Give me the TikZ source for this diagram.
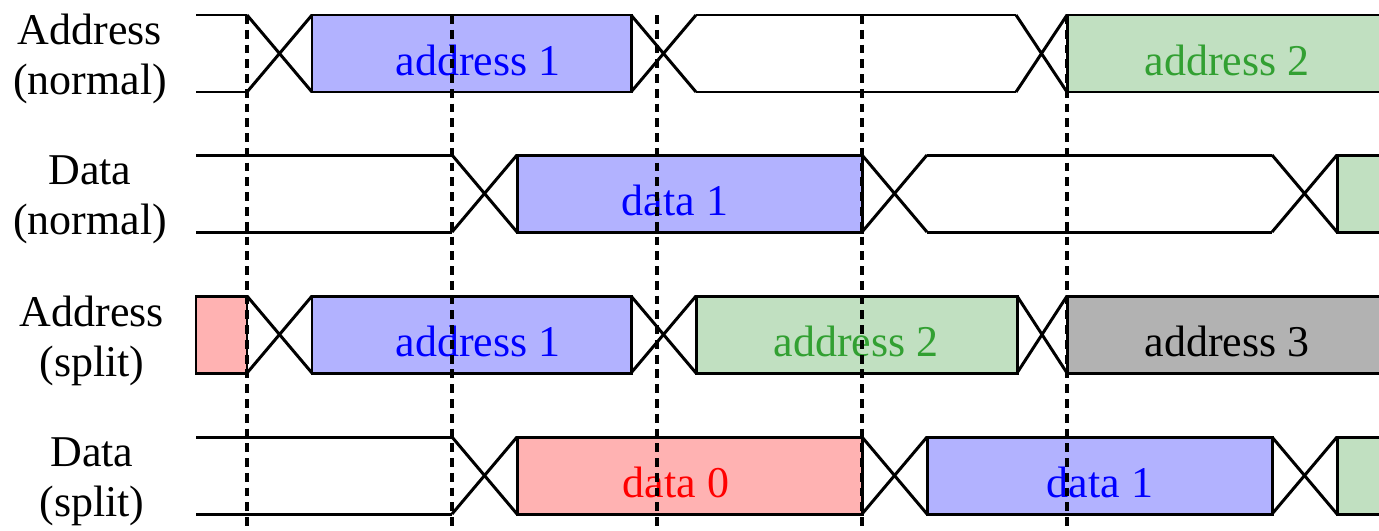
\documentclass[tikz,border=0pt]{standalone}
\usepackage{fontspec}
\setmainfont{Liberation Serif}
\usetikzlibrary{positioning}

\definecolor{busgreen}{RGB}{193,224,193}
\definecolor{txtgreen}{RGB}{50,160,50}

\begin{document}
\begin{tikzpicture}[x=0.01cm, y=-0.01cm, line width=0.85pt,
  lbl/.style={align=center, font=\fontsize{12.5}{14.2}\selectfont},
  val/.style={anchor=base, font=\fontsize{12.5}{14.2}\selectfont},
  clk/.style={line width=1pt, dash pattern=on 2.5pt off 1.7pt}]

\useasboundingbox (0,0) rectangle (1379,530);
\clip (0,0) rectangle (1379,530);

% signal names
\node[lbl] (a1) at (90,59) {Address\\(normal)};
\node[lbl] (d1) at (90,200) {Data\\(normal)};
\node[lbl] (a2) at (92,341) {Address\\(split)};
\node[lbl] (d2) at (92,482) {Data\\(split)};

% idle bus
\foreach \y/\a/\b in {15/196/247, 15/696/1016, 155/196/452, 155/927/1272, 437/196/452}
    \draw (\a,\y) -- (\b,\y) (\a,\y+77) -- (\b,\y+77);

% transitions
\foreach \y/\a/\b in {15/247/312, 15/631/696, 15/1016/1067,
                      155/452/517, 155/862/927, 155/1272/1337,
                      296/247/312, 296/631/696, 296/1017/1067,
                      437/452/517, 437/862/927, 437/1272/1337}
    \draw (\a,\y) -- (\b,\y+77) (\a,\y+77) -- (\b,\y);

% valid data
\foreach \y/\a/\b/\f/\c/\x/\t [count=\i] in {
        15/312/631/blue!30/blue/478/address 1,
        15/1067/1400/busgreen/txtgreen/1227/address 2,
        155/517/862/blue!30/blue/675/data 1,
        296/196/247/red!30/red/0/{},
        296/312/631/blue!30/blue/478/address 1,
        296/696/1017/busgreen/txtgreen/856/address 2,
        296/1067/1400/black!30/black/1227/address 3,
        437/517/862/red!30/red/676/data 0,
        437/927/1272/blue!30/blue/1100/data 1,
        155/1337/1400/busgreen/txtgreen/0/{},
        437/1337/1400/busgreen/txtgreen/0/{}}
{
    \draw[fill=\f] (\a,\y) rectangle (\b,\y+77);
    \node[val, text=\c] (v\i) at (\x,\y+60) {\t};
}

% clock edges
\foreach \x in {247,452,657,862,1067}
    \draw[clk] (\x,15) -- (\x,530);

\end{tikzpicture}
\end{document}
